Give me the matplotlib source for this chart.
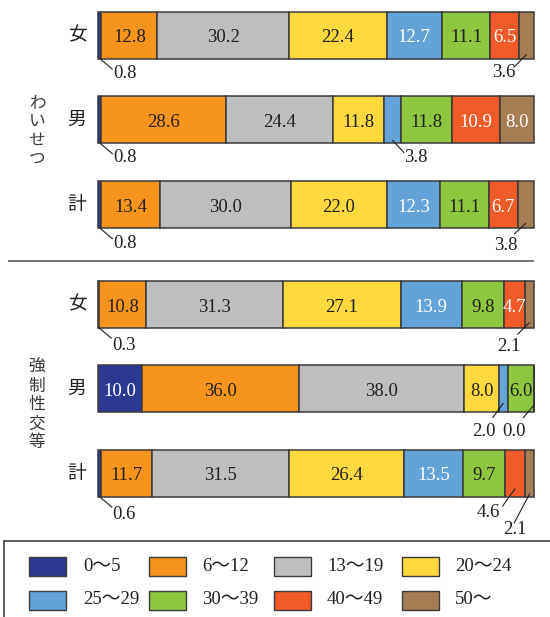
import matplotlib
matplotlib.use("Agg")
import matplotlib.pyplot as plt
from matplotlib.patches import Rectangle
from matplotlib.lines import Line2D

plt.rcParams["font.family"] = ["Liberation Serif", "Noto Sans CJK JP"]

# ---- data -------------------------------------------------------------
age_groups = ["0〜5", "6〜12", "13〜19", "20〜24", "25〜29", "30〜39", "40〜49", "50〜"]
colors = ["#2B3990", "#F7941D", "#BCBEC0", "#FFD93F", "#64A3D7", "#8DC63F", "#F15A29", "#A67C52"]
label_colors = ["white", "#231F20", "#231F20", "#231F20", "white", "#231F20", "white", "white"]

offence_labels = ["わいせつ", "強制性交等"]
sex_labels = ["女", "男", "計"]

indecency_female = [0.8, 12.8, 30.2, 22.4, 12.7, 11.1, 6.5, 3.6]
indecency_male = [0.8, 28.6, 24.4, 11.8, 3.8, 11.8, 10.9, 8.0]
indecency_total = [0.8, 13.4, 30.0, 22.0, 12.3, 11.1, 6.7, 3.8]
rape_female = [0.3, 10.8, 31.3, 27.1, 13.9, 9.8, 4.7, 2.1]
rape_male = [10.0, 36.0, 38.0, 8.0, 2.0, 6.0, 0.0, 0.0]
rape_total = [0.6, 11.7, 31.5, 26.4, 13.5, 9.7, 4.6, 2.1]

rows = [indecency_female, indecency_male, indecency_total,
        rape_female, rape_male, rape_total]

# ---- layout (figure pixels, origin top-left) -----------------------------
W, H = 550, 617
row_y = [35, 119.5, 204.5, 304, 388.5, 473]
bar_h = 47
inside_min = 4.7
PX = (534 - 98) / 100.0  # pixels per percent
# (row, segment, anchor lift from bar bottom, leader end dx/dy, text dx/dy)
callouts = [
    (0, 0, 0, (13, 11), (25, 15)), (0, 7, 4, (-13, 13), (-23, 18)),
    (1, 0, 0, (13, 11), (25, 15)), (1, 4, 3, (12, 13), (24, 17)),
    (2, 0, 0, (13, 11), (25, 15)), (2, 7, 5, (-12, 11), (-20, 22)),
    (3, 0, 0, (13, 11), (25, 18)), (3, 7, 5, (-12, 12), (-21, 24)),
    (4, 4, 9, (-11, 15), (-20, 29)), (4, 6, 7, (-11, 13), (-20, 27)),
    (5, 0, 0, (13, 11), (25, 18)), (5, 6, 8, (-13, 18), (-27, 24)),
    (5, 7, 3, (-16, 30), (-15, 36)),
]

INK = "#231F20"
EDGE = "#3A3A3A"
FS = 13.5


def fx(x):
    return x / W


def fy(y):
    return 1 - y / H


fig = plt.figure(figsize=(W / 100, H / 100), dpi=100)
ax = fig.add_axes([fx(98), 0, (534 - 98) / W, 1])
ax.set_xlim(0, 100)
ax.set_ylim(H, 0)
ax.axis("off")

for r, vals in enumerate(rows):
    left = 0.0
    for i, v in enumerate(vals):
        ax.barh(row_y[r], v, left=left, height=bar_h, color=colors[i],
                edgecolor=EDGE, linewidth=1.1, clip_on=False)
        if v >= inside_min:
            ax.text(left + v / 2, row_y[r] + 3, f"{v:.1f}", ha="center",
                    va="center", fontsize=FS, color=label_colors[i])
        left += v

for r, seg, lift, (ex, ey), (tx, ty) in callouts:
    vals = rows[r]
    x = sum(vals[:seg]) + vals[seg] / 2
    y = row_y[r] + bar_h / 2 - lift
    ax.plot([x, x + ex / PX], [y, y + ey], color=INK, lw=0.8,
            solid_capstyle="butt", clip_on=False)
    ax.text(x + tx / PX, y + ty, f"{vals[seg]:.1f}", ha="center", va="center",
            fontsize=FS, color=INK, clip_on=False)

# row and group labels
for r in range(6):
    fig.text(fx(77), fy(row_y[r]), sex_labels[r % 3], ha="center", va="center",
             fontsize=13.5, color=INK, family="Noto Sans CJK JP")

for label, yc in zip(offence_labels, [131, 405]):
    fig.text(fx(37), fy(yc), "\n".join(label), ha="center", va="center",
             fontsize=12, color="#3A3A3A", family="Noto Sans CJK JP",
             linespacing=1.15)

# separator between offences
fig.add_artist(Line2D([fx(9), fx(533)], [fy(261), fy(261)], color="#666666", lw=1.3))

# legend
fig.add_artist(Line2D([fx(4), fx(551)], [fy(541), fy(541)], color="#444444", lw=1.2))
fig.add_artist(Line2D([fx(4), fx(4)], [fy(541), fy(618)], color="#444444", lw=1.2))
patch_x = [29, 149, 274, 402]
text_x = [83, 202, 327, 455]
leg_y = [566.5, 600]
for i, (lab, c) in enumerate(zip(age_groups, colors)):
    col, rw = i % 4, i // 4
    fig.add_artist(Rectangle((fx(patch_x[col]), fy(leg_y[rw] + 9.5)), 37 / W, 19 / H,
                             transform=fig.transFigure, facecolor=c,
                             edgecolor=EDGE, linewidth=1.0))
    fig.text(fx(text_x[col]), fy(leg_y[rw]), lab, ha="left", va="center",
             fontsize=FS, color=INK)

fig.savefig("out.png", dpi=100)
